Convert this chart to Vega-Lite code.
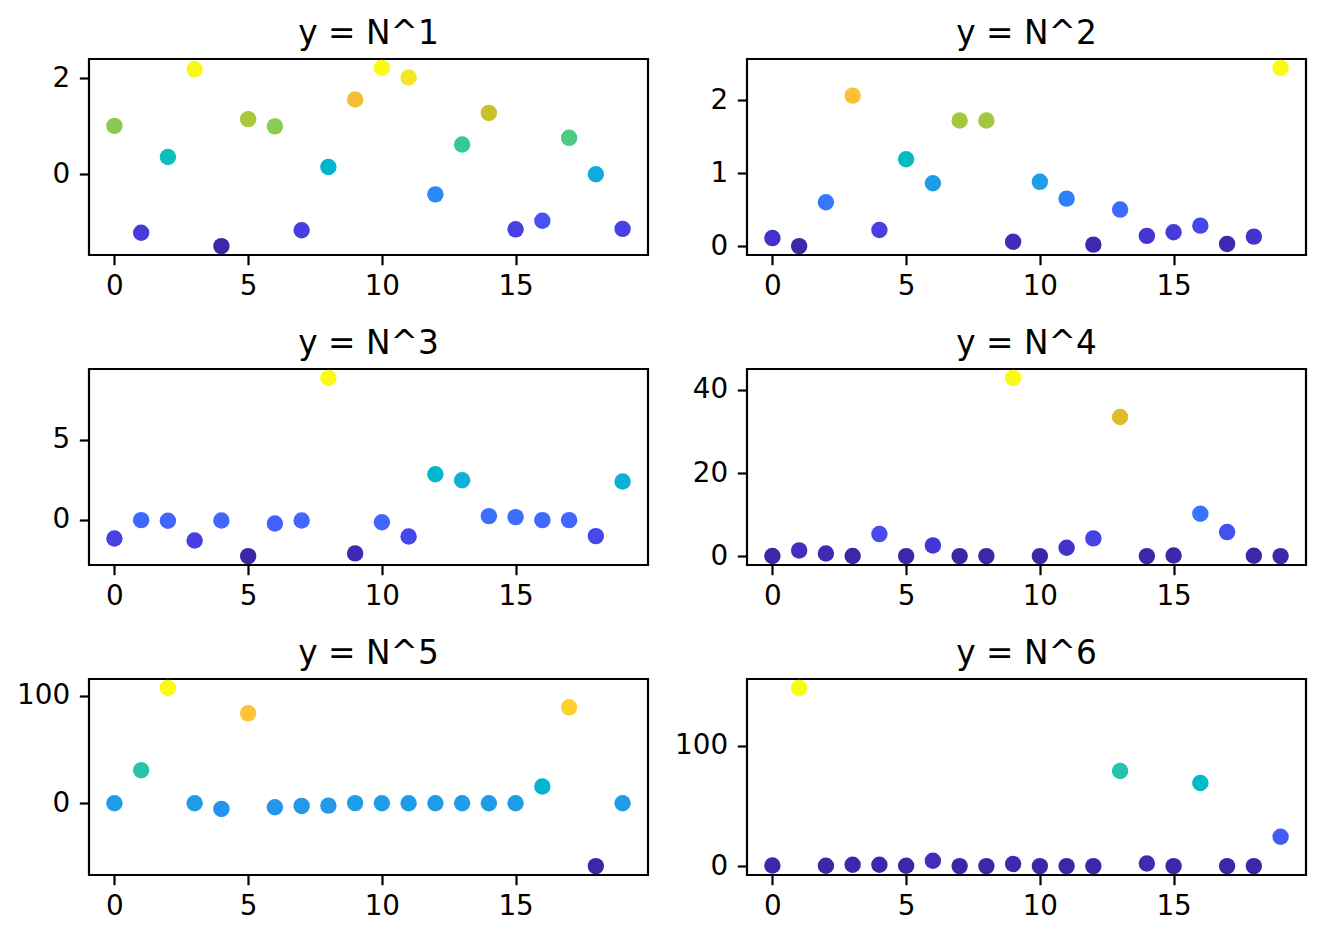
{
  "$schema": "https://vega.github.io/schema/vega-lite/v6.json",
  "background": "white",
  "padding": {"left": 15, "top": 17, "right": 0, "bottom": 0},
  "columns": 2,
  "spacing": {"row": 25, "column": 23},
  "data": {
    "values": [
      {"p": 1, "n": 0, "y": 1.01}, {"p": 1, "n": 1, "y": -1.22}, {"p": 1, "n": 2, "y": 0.36}, {"p": 1, "n": 3, "y": 2.19},
      {"p": 1, "n": 4, "y": -1.50}, {"p": 1, "n": 5, "y": 1.15}, {"p": 1, "n": 6, "y": 1.00}, {"p": 1, "n": 7, "y": -1.17},
      {"p": 1, "n": 8, "y": 0.15}, {"p": 1, "n": 9, "y": 1.56}, {"p": 1, "n": 10, "y": 2.22}, {"p": 1, "n": 11, "y": 2.02},
      {"p": 1, "n": 12, "y": -0.42}, {"p": 1, "n": 13, "y": 0.62}, {"p": 1, "n": 14, "y": 1.28}, {"p": 1, "n": 15, "y": -1.15},
      {"p": 1, "n": 16, "y": -0.97}, {"p": 1, "n": 17, "y": 0.76}, {"p": 1, "n": 18, "y": 0.00}, {"p": 1, "n": 19, "y": -1.14},

      {"p": 2, "n": 0, "y": 0.11}, {"p": 2, "n": 1, "y": 0.00}, {"p": 2, "n": 2, "y": 0.60}, {"p": 2, "n": 3, "y": 2.06},
      {"p": 2, "n": 4, "y": 0.22}, {"p": 2, "n": 5, "y": 1.19}, {"p": 2, "n": 6, "y": 0.86}, {"p": 2, "n": 7, "y": 1.72},
      {"p": 2, "n": 8, "y": 1.72}, {"p": 2, "n": 9, "y": 0.06}, {"p": 2, "n": 10, "y": 0.88}, {"p": 2, "n": 11, "y": 0.65},
      {"p": 2, "n": 12, "y": 0.02}, {"p": 2, "n": 13, "y": 0.50}, {"p": 2, "n": 14, "y": 0.14}, {"p": 2, "n": 15, "y": 0.19},
      {"p": 2, "n": 16, "y": 0.28}, {"p": 2, "n": 17, "y": 0.03}, {"p": 2, "n": 18, "y": 0.13}, {"p": 2, "n": 19, "y": 2.44},

      {"p": 3, "n": 0, "y": -1.17}, {"p": 3, "n": 1, "y": -0.02}, {"p": 3, "n": 2, "y": -0.06}, {"p": 3, "n": 3, "y": -1.29},
      {"p": 3, "n": 4, "y": -0.04}, {"p": 3, "n": 5, "y": -2.27}, {"p": 3, "n": 6, "y": -0.23}, {"p": 3, "n": 7, "y": -0.04},
      {"p": 3, "n": 8, "y": 8.88}, {"p": 3, "n": 9, "y": -2.10}, {"p": 3, "n": 10, "y": -0.15}, {"p": 3, "n": 11, "y": -1.04},
      {"p": 3, "n": 12, "y": 2.85}, {"p": 3, "n": 13, "y": 2.48}, {"p": 3, "n": 14, "y": 0.23}, {"p": 3, "n": 15, "y": 0.17},
      {"p": 3, "n": 16, "y": -0.02}, {"p": 3, "n": 17, "y": -0.02}, {"p": 3, "n": 18, "y": -1.02}, {"p": 3, "n": 19, "y": 2.40},

      {"p": 4, "n": 0, "y": 0.01}, {"p": 4, "n": 1, "y": 1.37}, {"p": 4, "n": 2, "y": 0.64}, {"p": 4, "n": 3, "y": 0.02},
      {"p": 4, "n": 4, "y": 5.3}, {"p": 4, "n": 5, "y": 0.0}, {"p": 4, "n": 6, "y": 2.57}, {"p": 4, "n": 7, "y": 0.0},
      {"p": 4, "n": 8, "y": 0.0}, {"p": 4, "n": 9, "y": 42.9}, {"p": 4, "n": 10, "y": 0.0}, {"p": 4, "n": 11, "y": 2.0},
      {"p": 4, "n": 12, "y": 4.26}, {"p": 4, "n": 13, "y": 33.5}, {"p": 4, "n": 14, "y": 0.0}, {"p": 4, "n": 15, "y": 0.16},
      {"p": 4, "n": 16, "y": 10.2}, {"p": 4, "n": 17, "y": 5.78}, {"p": 4, "n": 18, "y": 0.08}, {"p": 4, "n": 19, "y": 0.0},

      {"p": 5, "n": 0, "y": 0.0}, {"p": 5, "n": 1, "y": 30.8}, {"p": 5, "n": 2, "y": 107.5}, {"p": 5, "n": 3, "y": 0.0},
      {"p": 5, "n": 4, "y": -5.3}, {"p": 5, "n": 5, "y": 83.8}, {"p": 5, "n": 6, "y": -3.7}, {"p": 5, "n": 7, "y": -2.5},
      {"p": 5, "n": 8, "y": -2.2}, {"p": 5, "n": 9, "y": 0.1}, {"p": 5, "n": 10, "y": 0.0}, {"p": 5, "n": 11, "y": 0.0},
      {"p": 5, "n": 12, "y": 0.0}, {"p": 5, "n": 13, "y": 0.0}, {"p": 5, "n": 14, "y": 0.0}, {"p": 5, "n": 15, "y": 0.0},
      {"p": 5, "n": 16, "y": 15.6}, {"p": 5, "n": 17, "y": 89.4}, {"p": 5, "n": 18, "y": -58.6}, {"p": 5, "n": 19, "y": 0.0},

      {"p": 6, "n": 0, "y": 0.55}, {"p": 6, "n": 1, "y": 147.9}, {"p": 6, "n": 2, "y": 0.3}, {"p": 6, "n": 3, "y": 1.1},
      {"p": 6, "n": 4, "y": 1.1}, {"p": 6, "n": 5, "y": 0.3}, {"p": 6, "n": 6, "y": 4.4}, {"p": 6, "n": 7, "y": 0.0},
      {"p": 6, "n": 8, "y": 0.0}, {"p": 6, "n": 9, "y": 1.7}, {"p": 6, "n": 10, "y": 0.0}, {"p": 6, "n": 11, "y": 0.0},
      {"p": 6, "n": 12, "y": 0.0}, {"p": 6, "n": 13, "y": 78.9}, {"p": 6, "n": 14, "y": 2.2}, {"p": 6, "n": 15, "y": 0.0},
      {"p": 6, "n": 16, "y": 69.0}, {"p": 6, "n": 17, "y": 0.0}, {"p": 6, "n": 18, "y": 0.0}, {"p": 6, "n": 19, "y": 24.4}
    ]
  },
  "concat": [
    {
      "title": "y = N^1",
      "width": 559, "height": 196,
      "transform": [{"filter": "datum.p == 1"}],
      "mark": {"type": "circle", "size": 270, "opacity": 1},
      "encoding": {
        "x": {"field": "n", "type": "quantitative", "scale": {"domain": [-0.95, 19.95], "nice": false, "zero": false}, "axis": {"values": [0, 5, 10, 15], "title": null}},
        "y": {"field": "y", "type": "quantitative", "scale": {"zero": false, "nice": false, "padding": 8.9}, "axis": {"values": [0, 2], "title": null}},
        "color": {"field": "y", "type": "quantitative", "legend": null, "scale": {"zero": false, "nice": false, "range": ["#3e26a8", "#4332cb", "#4741e5", "#4852f4", "#4563fd", "#3875fe", "#2e87f7", "#2796eb", "#20a5e3", "#12b1d6", "#02bac3", "#24c1ae", "#37c897", "#57cc7a", "#81cc59", "#abc739", "#d1bf27", "#f0ba36", "#fec338", "#fad62d", "#f5e924", "#f9fb15"]}}
      }
    },
    {
      "title": "y = N^2",
      "width": 559, "height": 196,
      "transform": [{"filter": "datum.p == 2"}],
      "mark": {"type": "circle", "size": 270, "opacity": 1},
      "encoding": {
        "x": {"field": "n", "type": "quantitative", "scale": {"domain": [-0.95, 19.95], "nice": false, "zero": false}, "axis": {"values": [0, 5, 10, 15], "title": null}},
        "y": {"field": "y", "type": "quantitative", "scale": {"zero": false, "nice": false, "padding": 8.9}, "axis": {"values": [0, 1, 2], "title": null}},
        "color": {"field": "y", "type": "quantitative", "legend": null, "scale": {"zero": false, "nice": false, "range": ["#3e26a8", "#4332cb", "#4741e5", "#4852f4", "#4563fd", "#3875fe", "#2e87f7", "#2796eb", "#20a5e3", "#12b1d6", "#02bac3", "#24c1ae", "#37c897", "#57cc7a", "#81cc59", "#abc739", "#d1bf27", "#f0ba36", "#fec338", "#fad62d", "#f5e924", "#f9fb15"]}}
      }
    },
    {
      "title": "y = N^3",
      "width": 559, "height": 196,
      "transform": [{"filter": "datum.p == 3"}],
      "mark": {"type": "circle", "size": 270, "opacity": 1},
      "encoding": {
        "x": {"field": "n", "type": "quantitative", "scale": {"domain": [-0.95, 19.95], "nice": false, "zero": false}, "axis": {"values": [0, 5, 10, 15], "title": null}},
        "y": {"field": "y", "type": "quantitative", "scale": {"zero": false, "nice": false, "padding": 8.9}, "axis": {"values": [0, 5], "title": null}},
        "color": {"field": "y", "type": "quantitative", "legend": null, "scale": {"zero": false, "nice": false, "range": ["#3e26a8", "#4332cb", "#4741e5", "#4852f4", "#4563fd", "#3875fe", "#2e87f7", "#2796eb", "#20a5e3", "#12b1d6", "#02bac3", "#24c1ae", "#37c897", "#57cc7a", "#81cc59", "#abc739", "#d1bf27", "#f0ba36", "#fec338", "#fad62d", "#f5e924", "#f9fb15"]}}
      }
    },
    {
      "title": "y = N^4",
      "width": 559, "height": 196,
      "transform": [{"filter": "datum.p == 4"}],
      "mark": {"type": "circle", "size": 270, "opacity": 1},
      "encoding": {
        "x": {"field": "n", "type": "quantitative", "scale": {"domain": [-0.95, 19.95], "nice": false, "zero": false}, "axis": {"values": [0, 5, 10, 15], "title": null}},
        "y": {"field": "y", "type": "quantitative", "scale": {"zero": false, "nice": false, "padding": 8.9}, "axis": {"values": [0, 20, 40], "title": null}},
        "color": {"field": "y", "type": "quantitative", "legend": null, "scale": {"zero": false, "nice": false, "range": ["#3e26a8", "#4332cb", "#4741e5", "#4852f4", "#4563fd", "#3875fe", "#2e87f7", "#2796eb", "#20a5e3", "#12b1d6", "#02bac3", "#24c1ae", "#37c897", "#57cc7a", "#81cc59", "#abc739", "#d1bf27", "#f0ba36", "#fec338", "#fad62d", "#f5e924", "#f9fb15"]}}
      }
    },
    {
      "title": "y = N^5",
      "width": 559, "height": 196,
      "transform": [{"filter": "datum.p == 5"}],
      "mark": {"type": "circle", "size": 270, "opacity": 1},
      "encoding": {
        "x": {"field": "n", "type": "quantitative", "scale": {"domain": [-0.95, 19.95], "nice": false, "zero": false}, "axis": {"values": [0, 5, 10, 15], "title": null}},
        "y": {"field": "y", "type": "quantitative", "scale": {"zero": false, "nice": false, "padding": 8.9}, "axis": {"values": [0, 100], "title": null}},
        "color": {"field": "y", "type": "quantitative", "legend": null, "scale": {"zero": false, "nice": false, "range": ["#3e26a8", "#4332cb", "#4741e5", "#4852f4", "#4563fd", "#3875fe", "#2e87f7", "#2796eb", "#20a5e3", "#12b1d6", "#02bac3", "#24c1ae", "#37c897", "#57cc7a", "#81cc59", "#abc739", "#d1bf27", "#f0ba36", "#fec338", "#fad62d", "#f5e924", "#f9fb15"]}}
      }
    },
    {
      "title": "y = N^6",
      "width": 559, "height": 196,
      "transform": [{"filter": "datum.p == 6"}],
      "mark": {"type": "circle", "size": 270, "opacity": 1},
      "encoding": {
        "x": {"field": "n", "type": "quantitative", "scale": {"domain": [-0.95, 19.95], "nice": false, "zero": false}, "axis": {"values": [0, 5, 10, 15], "title": null}},
        "y": {"field": "y", "type": "quantitative", "scale": {"zero": false, "nice": false, "padding": 8.9}, "axis": {"values": [0, 100], "title": null}},
        "color": {"field": "y", "type": "quantitative", "legend": null, "scale": {"zero": false, "nice": false, "range": ["#3e26a8", "#4332cb", "#4741e5", "#4852f4", "#4563fd", "#3875fe", "#2e87f7", "#2796eb", "#20a5e3", "#12b1d6", "#02bac3", "#24c1ae", "#37c897", "#57cc7a", "#81cc59", "#abc739", "#d1bf27", "#f0ba36", "#fec338", "#fad62d", "#f5e924", "#f9fb15"]}}
      }
    }
  ],
  "resolve": {"scale": {"x": "independent", "y": "independent", "color": "independent"}},
  "config": {
    "font": "DejaVu Sans",
    "view": {"stroke": "black", "strokeWidth": 2.2},
    "axis": {
      "grid": false,
      "domain": false,
      "ticks": true,
      "tickColor": "black",
      "tickSize": 9.7,
      "tickWidth": 2.2,
      "labelFont": "DejaVu Sans",
      "labelFontSize": 27.8,
      "labelColor": "black"
    },
    "axisX": {"labelPadding": 8},
    "axisY": {"labelPadding": 9.7},
    "title": {
      "font": "DejaVu Sans",
      "fontSize": 32.8,
      "fontWeight": "normal",
      "color": "black",
      "anchor": "middle",
      "frame": "group",
      "baseline": "alphabetic",
      "offset": 8
    }
  }
}
